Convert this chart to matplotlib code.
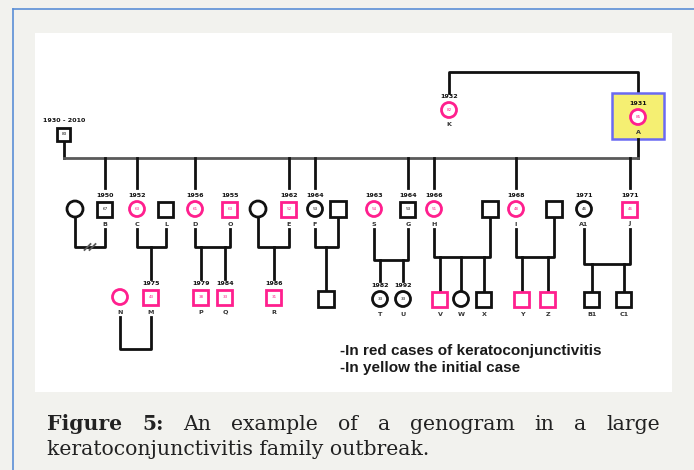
import matplotlib.pyplot as plt
from matplotlib.patches import Rectangle, Circle

# --- family data -------------------------------------------------------
# id, shown letter, sex, birth year, age written in the symbol, affected
ids = ["P0", "K", "A", "sB", "B", "C", "L", "D", "O", "sE", "E", "F", "sF",
       "S", "G", "H", "sH", "I", "sI", "A1", "J",
       "N", "M", "P", "Q", "R", "cF", "T", "U", "V", "W", "X", "Y", "Z", "B1", "C1"]
letters = ["", "K", "A", "", "B", "C", "L", "D", "O", "", "E", "F", "",
           "S", "G", "H", "", "I", "", "A1", "J",
           "N", "M", "P", "Q", "R", "", "T", "U", "V", "W", "X", "Y", "Z", "B1", "C1"]
sexes = ["M", "F", "F", "F", "M", "F", "M", "F", "M", "F", "M", "F", "M",
         "F", "M", "F", "M", "F", "M", "F", "M",
         "F", "M", "M", "M", "M", "M", "F", "F", "M", "F", "M", "M", "M", "M", "M"]
years = ["1930 - 2010", "1932", "1931", "", "1950", "1952", "", "1956", "1955", "", "1962", "1964", "",
         "1963", "1964", "1966", "", "1968", "", "1971", "1971",
         "", "1975", "1979", "1984", "1986", "", "1982", "1992", "", "", "", "", "", "", ""]
ages = ["83", "82", "85", "", "67", "63", "", "61", "63", "", "52", "53", "",
        "54", "53", "51", "", "48", "", "46", "46",
        "", "43", "38", "33", "31", "", "33", "33", "", "", "", "", "", "", ""]
affected = [False, True, True, False, False, True, False, True, True, False, True, False, False,
            True, False, True, False, True, False, False, True,
            True, True, True, True, True, False, False, False, True, False, False, True, True, False, False]

couples = [("sB", "B"), ("C", "L"), ("D", "O"), ("sE", "E"), ("F", "sF"), ("S", "G"),
           ("H", "sH"), ("I", "sI"), ("A1", "J"), ("N", "M")]
offspring = [[], ["M"], ["P", "Q"], ["R"], ["cF"], ["T", "U"],
             ["V", "W", "X"], ["Y", "Z"], ["B1", "C1"], []]
sibship = ["B", "C", "D", "E", "F", "G", "H", "I", "J"]
divorced = ["sB"]

# --- layout (pixel positions on the page) ------------------------------
pos = {"P0": (64, 134), "K": (449, 110), "A": (638, 117),
       "sB": (75, 209), "B": (105, 209), "C": (137, 209), "L": (166, 209),
       "D": (195, 209), "O": (230, 209), "sE": (258, 209), "E": (289, 209),
       "F": (315, 209), "sF": (338, 209), "S": (374, 209), "G": (408, 209),
       "H": (434, 209), "sH": (490, 209), "I": (516, 209), "sI": (554, 209),
       "A1": (584, 209), "J": (630, 209),
       "N": (120, 297), "M": (151, 297), "P": (201, 297), "Q": (225, 297),
       "R": (274, 297), "cF": (326, 299), "T": (380, 299), "U": (403, 299),
       "V": (440, 299), "W": (461, 299), "X": (484, 299), "Y": (522, 299),
       "Z": (548, 299), "B1": (592, 299), "C1": (624, 299)}
couple_y = [247, 247, 247, 247, 247, 260, 257, 257, 264, 349]

PINK = "#ff1f8e"
BLACK = "#111111"
GREY = "#5a5a5a"
LW = 2.0

fig = plt.figure(figsize=(6.94, 4.70), dpi=100, facecolor="#f2f2ee")
ax = fig.add_axes([0, 0, 1, 1])
ax.set_xlim(0, 694)
ax.set_ylim(470, 0)
ax.axis("off")

# page frame and white panel
ax.plot([13, 694], [9, 9], color="#5b8fd6", lw=1.2)
ax.plot([13, 13], [9, 470], color="#5b8fd6", lw=1.2)
ax.add_patch(Rectangle((35, 33), 637, 359, facecolor="white", edgecolor="none"))

info = {pid: i for i, pid in enumerate(ids)}


def half(pid):
    i = info[pid]
    if pid == "P0":
        return 6.5
    return 7.5 if letters[i] else 8


def top(pid):
    i = info[pid]
    return pos[pid][1] - (18 if years[i] else half(pid))


def bottom(pid):
    i = info[pid]
    return pos[pid][1] + (20 if letters[i] else half(pid))


def draw_person(pid):
    i = info[pid]
    x, y = pos[pid]
    col = PINK if affected[i] else BLACK
    h = half(pid)
    if sexes[i] == "M":
        ax.add_patch(Rectangle((x - h, y - h), 2 * h, 2 * h, facecolor="white",
                               edgecolor=col, lw=LW, zorder=3))
    else:
        ax.add_patch(Circle((x, y), h, facecolor="white", edgecolor=col, lw=LW, zorder=3))
    if ages[i]:
        ax.text(x, y, ages[i], fontsize=3, color=col, ha="center", va="center", zorder=4)
    if years[i]:
        ax.text(x, y - 13.5, years[i], fontsize=4.6, color=BLACK, ha="center", va="center",
                zorder=4, fontweight="bold")
    if letters[i]:
        ax.text(x, y + 15, letters[i], fontsize=4.6, color="#333333", ha="center",
                va="center", zorder=4, fontweight="bold")


# founders line at the top
kx, ky = pos["K"]
ax_, ay = pos["A"]
ax.plot([kx, kx, ax_, ax_], [93, 72, 72, 93], color=BLACK, lw=LW)
ax.add_patch(Rectangle((612, 93), 52, 46, facecolor="#f5ef72", edgecolor="#6a6af2", lw=1.8, zorder=2))
ax.plot([ax_, ax_], [139, 158], color=BLACK, lw=LW)

fx, fy = pos["P0"]
ax.plot([fx, fx], [fy + 6, 158], color=BLACK, lw=LW)
ax.plot([fx, ax_], [158, 158], color=GREY, lw=LW)

for pid in sibship:
    x = pos[pid][0]
    ax.plot([x, x], [158, 188], color=BLACK, lw=LW)

for (a, b), ly, kids in zip(couples, couple_y, offspring):
    xa, xb = pos[a][0], pos[b][0]
    ax.plot([xa, xa, xb, xb], [bottom(a), ly, ly, bottom(b)], color=BLACK, lw=LW, zorder=1)
    if a in divorced:
        mx = (xa + xb) / 2
        for dx in (-2.5, 2.5):
            ax.plot([mx + dx - 3, mx + dx + 3], [ly + 3, ly - 3], color=GREY, lw=1.3, zorder=2)
    for k in kids:
        x = pos[k][0]
        ax.plot([x, x], [ly, top(k)], color=BLACK, lw=LW, zorder=1)

for pid in ids:
    draw_person(pid)

# legend text
ax.text(340, 351, "-In red cases of keratoconjunctivitis", fontsize=11, family="Liberation Sans",
        fontweight="bold", color="#1a1a1a", va="center")
ax.text(340, 368, "-In yellow the initial case", fontsize=11, family="Liberation Sans",
        fontweight="bold", color="#1a1a1a", va="center")

# caption (line 1 justified)
fig.canvas.draw()
renderer = fig.canvas.get_renderer()
words = ["Figure", "5:", "An", "example", "of", "a", "genogram", "in", "a", "large"]
objs = []
for j, w in enumerate(words):
    t = ax.text(0, 430, w, fontsize=14.7, family="DejaVu Serif", color="#222222",
                fontweight="bold" if j < 2 else "normal", va="baseline")
    objs.append(t)
widths = [t.get_window_extent(renderer).width for t in objs]
gap = (660 - 47 - sum(widths)) / (len(words) - 1)
x = 47
for t, w in zip(objs, widths):
    t.set_x(x)
    x += w + gap
ax.text(47, 455, "keratoconjunctivitis family outbreak.", fontsize=14.7, family="DejaVu Serif",
        color="#222222", va="baseline")

fig.savefig("out.png", dpi=100, facecolor=fig.get_facecolor())
